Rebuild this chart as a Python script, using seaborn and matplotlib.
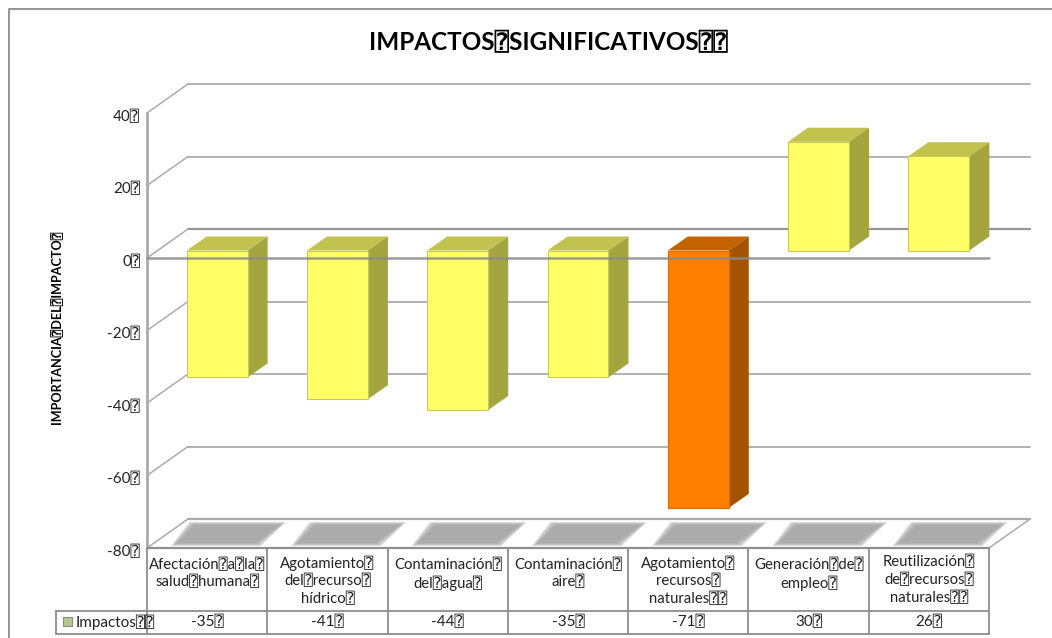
import matplotlib
matplotlib.use("Agg")
import matplotlib.pyplot as plt
import matplotlib.transforms as mtransforms
import pandas as pd
import seaborn as sns
from matplotlib.lines import Line2D
from matplotlib.patches import Polygon, Rectangle

categorias = ["Afectación⍰a⍰la⍰\nsalud⍰humana⍰", "Agotamiento⍰\ndel⍰recurso⍰\nhídrico⍰",
              "Contaminación⍰\ndel⍰agua⍰", "Contaminación⍰\naire⍰",
              "Agotamiento⍰\nrecursos⍰\nnaturales⍰⍰", "Generación⍰de⍰\nempleo⍰",
              "Reutilización⍰\nde⍰recursos⍰\nnaturales⍰⍰"]
valores = [-35, -41, -44, -35, -71, 30, 26]
etiquetas_valor = ["-35⍰", "-41⍰", "-44⍰", "-35⍰", "-71⍰", "30⍰", "26⍰"]
ticks_y = [40, 20, 0, -20, -40, -60, -80]
etiquetas_y = ["40⍰", "20⍰", "0⍰", "-20⍰", "-40⍰", "-60⍰", "-80⍰"]
titulo = "IMPACTOS⍰SIGNIFICATIVOS⍰⍰"
titulo_y = "IMPORTANCIA⍰DEL⍰IMPACTO⍰"
serie = "Impactos⍰⍰"
frentes = ["#FFFF66", "#FFFF66", "#FFFF66", "#FFFF66", "#FF8000", "#FFFF66", "#FFFF66"]
bordes = ["#C9C95A", "#C9C95A", "#C9C95A", "#C9C95A", "#D96D00", "#C9C95A", "#C9C95A"]
techos = ["#C2C24E", "#C2C24E", "#C2C24E", "#C2C24E", "#C46200", "#C2C24E", "#C2C24E"]
lados = ["#A5A540", "#A5A540", "#A5A540", "#A5A540", "#A65300", "#A5A540", "#A5A540"]

W, H = 1052, 638
FONT = ["Lato", "DejaVu Sans Mono", "DejaVu Sans"]
GRID = "#ABABAB"
DARK = "#969696"
TXT = "#222222"

sns.set_theme(style="white")
plt.rcParams["font.family"] = FONT
fig = plt.figure(figsize=(W / 100, H / 100), dpi=100, facecolor="white")
ax = fig.add_axes([147 / W, 1 - 548 / H, (989 - 147) / W, (548 - 113) / H])

df = pd.DataFrame({"categoria": categorias, "valor": valores})
sns.barplot(data=df, x="categoria", y="valor", hue="categoria", palette=frentes,
            legend=False, width=0.507, saturation=1, ax=ax, zorder=6,
            linewidth=0.8)
ax.set_xlim(-0.5, 6.5)
ax.set_ylim(-80, 40)
ax.patch.set_alpha(0)
for s in ax.spines.values():
    s.set_visible(False)

UX = 1 / ((989 - 147) / 7)      # category units per pixel
UY = 120 / (548 - 113)          # value units per pixel
DX_W, DY_W = 41 * UX, 29 * UY   # depth of the box
DX_B, DY_B = 20 * UX, 14 * UY   # depth of a bar
OX, OY = 10 * UX, 7.5 * UY      # offset of bar front from front plane


def poly(pts, **kw):
    ax.add_patch(Polygon(pts, closed=True, clip_on=False, **kw))


def line(xs, ys, color=GRID, lw=1.3, z=2, **kw):
    ax.add_line(Line2D(xs, ys, color=color, lw=lw, clip_on=False, zorder=z, **kw))


# walls: back gridlines and their connectors on the left wall
for t in ticks_y:
    heavy = t in (0, -80)
    line([-0.5 + DX_W, 6.5 + DX_W], [t + DY_W, t + DY_W], color=DARK if t == 0 else GRID,
         lw=1.6 if heavy else 1.3, z=1)
    line([-0.5, -0.5 + DX_W], [t, t + DY_W], lw=1.1)
line([-0.5, -0.5], [-80, 40], lw=2.0, z=3)
line([6.5, 6.5 + DX_W], [-80, -80 + DY_W], lw=1.1)

# floor shadows, soft edges built from nested translucent shapes
for i in range(len(valores)):
    x0 = i - 0.5
    for k in range(6):
        s = k * 1.3
        poly([(x0 + (24 + s) * UX, -80 + (2 + s * .5) * UY),
              (x0 + (114 - s) * UX, -80 + (2 + s * .5) * UY),
              (x0 + (139 - s) * UX, -80 + (26 - s * .5) * UY),
              (x0 + (42 + s) * UX, -80 + (26 - s * .5) * UY)],
             facecolor="#A2A2A2", edgecolor="none", alpha=0.3, zorder=1.5)

# bars: shift the seaborn fronts into the box and add the top and side faces
for i, (bar, techo, lado, borde) in enumerate(zip(ax.patches, techos, lados, bordes)):
    bar.set_x(bar.get_x() + OX)
    bar.set_y(bar.get_y() + OY)
    bar.set_clip_on(False)
    bar.set_edgecolor(borde)
    x0, x1 = bar.get_x(), bar.get_x() + bar.get_width()
    y0, y1 = sorted((bar.get_y(), bar.get_y() + bar.get_height()))
    poly([(x0, y1), (x1, y1), (x1 + DX_B, y1 + DY_B), (x0 + DX_B, y1 + DY_B)],
         facecolor=techo, edgecolor="none", zorder=5)
    poly([(x1, y0), (x1 + DX_B, y0 + DY_B), (x1 + DX_B, y1 + DY_B), (x1, y1)],
         facecolor=lado, edgecolor="none", zorder=5)

# front zero line passes over the bars
line([-0.5, 6.5], [0, 0], color="#8A8A8A", lw=1.8, z=7, alpha=0.85)

# y ticks
ax.set_yticks(ticks_y)
ax.set_yticklabels(etiquetas_y)
ax.tick_params(axis="y", length=0, pad=5, labelsize=11, labelcolor=TXT)
down = mtransforms.ScaledTranslation(0, -2.5 / 100, fig.dpi_scale_trans)
for lab in ax.get_yticklabels():
    lab.set_transform(lab.get_transform() + down)

# category labels live in the first table row
ax.set_xticks(range(len(categorias)))
ax.set_xticklabels(categorias, linespacing=1.3)
ax.tick_params(axis="x", length=0, pad=7, labelsize=10.7, labelcolor=TXT)
up3 = mtransforms.ScaledTranslation(0, 2.5 / 100, fig.dpi_scale_trans)
for lab in ax.get_xticklabels():
    lab.set_verticalalignment("top")
    if lab.get_text().count("\n") == 2:
        lab.set_transform(lab.get_transform() + up3)
ax.set_xlabel("")
ax.set_ylabel("")

# data table grid
tb = ax.get_xaxis_transform()
PY = 1 / (548 - 113)
r1, r2 = -(611 - 548) * PY, -(634 - 548) * PY
TB = "#8E8E8E"
for i in range(len(valores) + 1):
    ax.add_line(Line2D([i - 0.5, i - 0.5], [0, r2], transform=tb, color=TB, lw=1.3, clip_on=False))
ax.add_line(Line2D([-0.5, 6.5], [0, 0], transform=tb, color=TB, lw=1.6, clip_on=False, zorder=4))
lx = -0.5 - 91 * UX
for r in (r1, r2):
    ax.add_line(Line2D([lx, 6.5], [r, r], transform=tb, color=TB, lw=1.3, clip_on=False))
ax.add_line(Line2D([lx, lx], [r1, r2], transform=tb, color=TB, lw=1.3, clip_on=False))
for i, et in enumerate(etiquetas_valor):
    ax.text(i, (r1 + r2) / 2, et, transform=tb, ha="center", va="center", fontsize=11, color=TXT)

# legend key of the table
ax.add_patch(Rectangle((lx + 7 * UX, r1 + (r2 - r1) * 0.27), 8.5 * UX, (r2 - r1) * 0.38, transform=tb,
                       facecolor="#B4C88C", edgecolor="#8C8C8C", lw=0.8, clip_on=False))
ax.text(lx + 20 * UX, (r1 + r2) / 2, serie, transform=tb, ha="left", va="center",
        fontsize=11, color=TXT)

# chart area border
fig.add_artist(Line2D([9 / W, 9 / W, 1], [0, 1 - 9 / H, 1 - 9 / H], color="#8C8C8C", lw=1.3))

fig.text(548 / W, 1 - 43 / H, titulo, ha="center", va="center", fontsize=17.5, fontweight="bold", color="black")
fig.text(57 / W, 1 - 327 / H, titulo_y, ha="center", va="center", rotation=90, fontsize=9.1,
         fontweight="bold", color="black")

fig.savefig("out.png", dpi=100, facecolor="white")
